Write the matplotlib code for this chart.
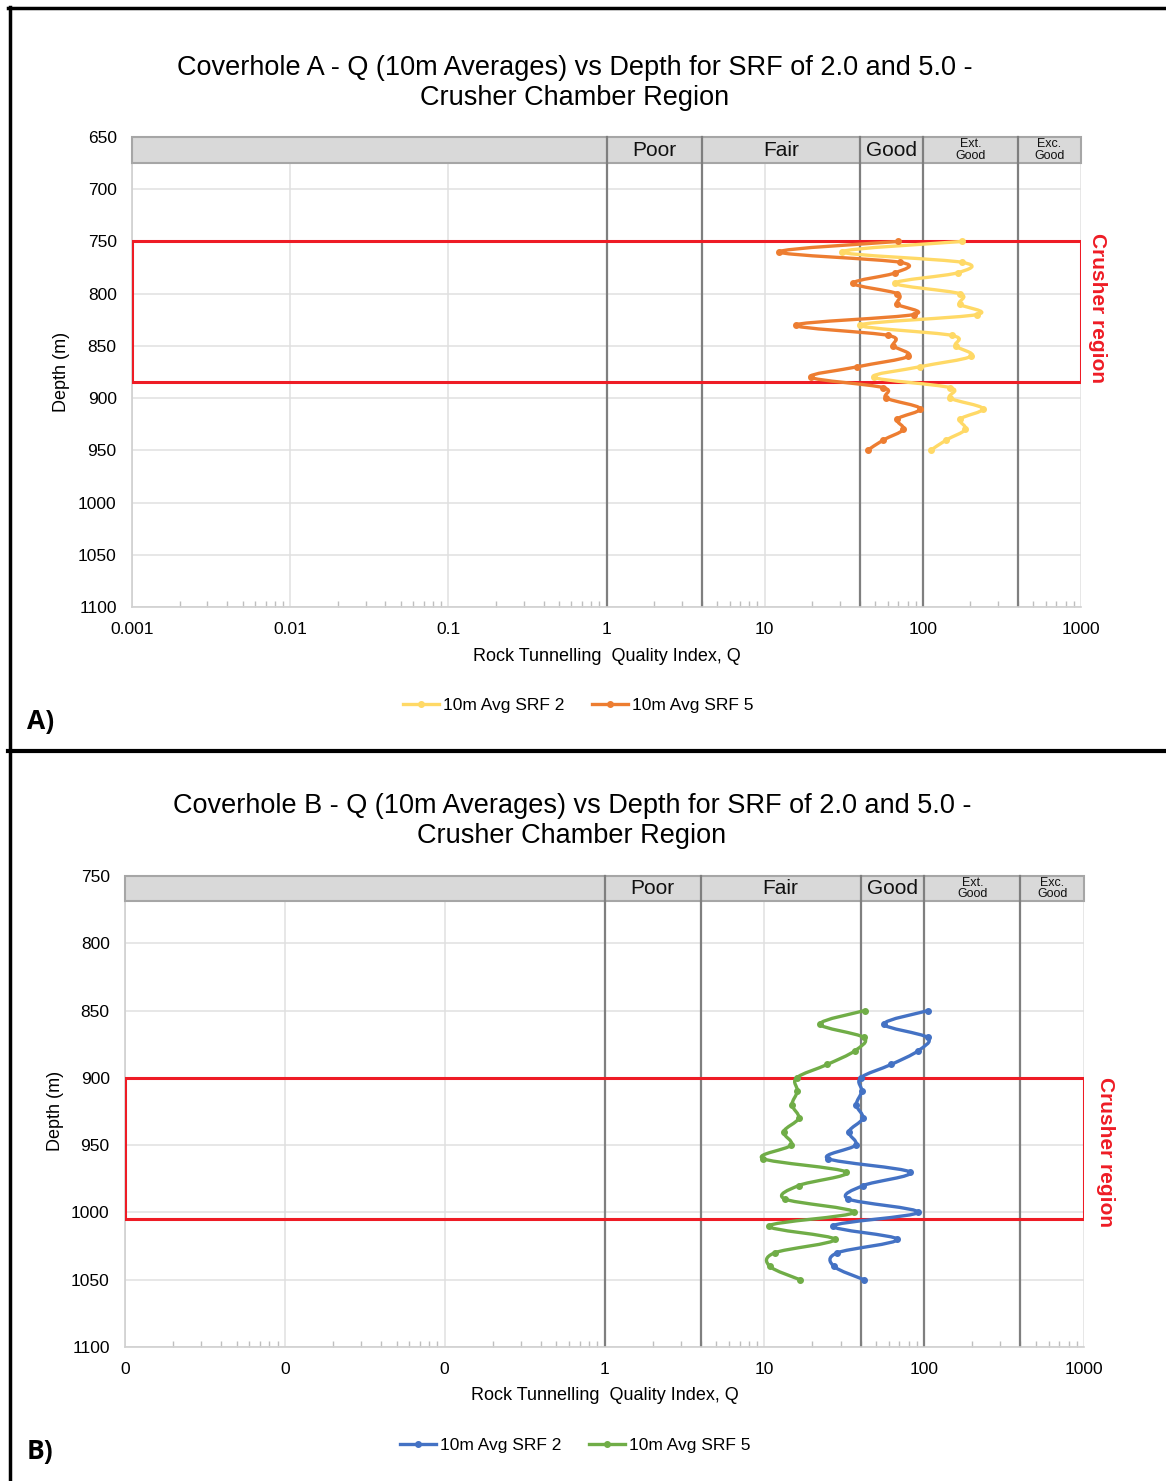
import numpy as np
import matplotlib
matplotlib.use('Agg')
import matplotlib.pyplot as plt
from matplotlib.path import Path
from matplotlib.patches import PathPatch, Rectangle
from matplotlib.lines import Line2D
import matplotlib.transforms as mtransforms
from matplotlib.ticker import FixedLocator, FixedFormatter, LogLocator, NullFormatter

plt.rcParams['font.family'] = ['Liberation Sans', 'DejaVu Sans']

# ---------------- data ----------------
depth_a = [750, 760, 770, 780, 790, 800, 810, 820, 830, 840, 850,
           860, 870, 880, 890, 900, 910, 920, 930, 940, 950]
q_a_srf2 = [177, 30.9, 177, 166, 67.1, 171, 171, 220, 40.3, 153, 161,
            202, 95.6, 48.9, 149, 149, 240, 173, 186, 141, 112]
q_a_srf5 = [70.1, 12.4, 72.2, 67.1, 36.4, 69.1, 69.1, 87.3, 15.7, 60.6, 65.2,
            81.1, 38.6, 19.5, 56.4, 58.9, 96.6, 69.1, 75.4, 56.4, 44.7]

depth_b = [850, 860, 870, 880, 890, 900, 910, 920, 930, 940, 950,
           960, 970, 980, 990, 1000, 1010, 1020, 1030, 1040, 1050]
q_b_srf2 = [106, 56, 105, 91.3, 62.3, 40, 40.7, 37.6, 41.3, 33.8, 37.2,
            25, 81.4, 41.6, 33.5, 91.3, 27, 67.9, 28.6, 27.2, 42]
q_b_srf5 = [42.4, 22.3, 41.9, 36.7, 24.8, 15.9, 16.1, 14.9, 16.4, 13.2, 14.7,
            9.79, 32.5, 16.4, 13.4, 36.3, 10.7, 27.5, 11.6, 10.8, 16.7]

x_ticks = [0.001, 0.01, 0.1, 1, 10, 100, 1000]
x_labels_a = ["0.001", "0.01", "0.1", "1", "10", "100", "1000"]
x_labels_b = ["0", "0", "0", "1", "10", "100", "1000"]
y_ticks_a = [650, 700, 750, 800, 850, 900, 950, 1000, 1050, 1100]
y_ticks_b = [750, 800, 850, 900, 950, 1000, 1050, 1100]

class_bounds = [1, 4, 40, 100, 400, 1000]
class_names = ["Poor", "Fair", "Good", "Ext.\nGood", "Exc.\nGood"]

crusher_a = (750, 885)
crusher_b = (900, 1005)

labels = ["10m Avg SRF 2", "10m Avg SRF 5"]
colors_a = ["#FFD966", "#ED7D31"]
colors_b = ["#4472C4", "#70AD47"]

titles = ["Coverhole A - Q (10m Averages) vs Depth for SRF of 2.0 and 5.0 -\nCrusher Chamber Region",
          "Coverhole B - Q (10m Averages) vs Depth for SRF of 2.0 and 5.0 -\nCrusher Chamber Region"]

# ---------------- figure ----------------
W, H = 1166, 1481
fig = plt.figure(figsize=(W / 100, H / 100), dpi=100)
fig.patch.set_facecolor('white')


def fx(px):
    return px / W


def fy(py):
    return 1 - py / H


def smooth_path(q, d):
    P = np.column_stack([np.log10(np.asarray(q, float)), np.asarray(d, float)])
    n = len(P)
    verts = [P[0]]
    codes = [Path.MOVETO]
    for i in range(n - 1):
        p0 = P[i - 1] if i > 0 else P[i]
        p1 = P[i]
        p2 = P[i + 1]
        p3 = P[i + 2] if i + 2 < n else P[i + 1]
        c1 = p1 + (p2 - p0) / 6.0
        c2 = p2 - (p3 - p1) / 6.0
        verts += [c1, c2, p2]
        codes += [Path.CURVE4] * 3
    V = np.array(verts)
    V[:, 0] = 10 ** V[:, 0]
    return Path(V, codes)


def make_panel(rect, ylim, yticks, xlabels, series, colors, crusher, band_frac):
    ax = fig.add_axes(rect)
    ax.set_xscale('log')
    ax.set_xlim(0.001, 1000)
    ax.set_ylim(ylim[1], ylim[0])
    ax.xaxis.set_major_locator(FixedLocator(x_ticks))
    ax.xaxis.set_major_formatter(FixedFormatter(xlabels))
    ax.xaxis.set_minor_locator(LogLocator(base=10, subs=np.arange(2, 10), numticks=20))
    ax.xaxis.set_minor_formatter(NullFormatter())
    ax.yaxis.set_major_locator(FixedLocator(yticks))
    ax.tick_params(axis='both', which='major', length=0, labelsize=12.5, colors='#000000', pad=11)
    ax.tick_params(axis='x', which='major', pad=11)
    ax.tick_params(axis='x', which='minor', direction='in', length=4, color='#BFBFBF', width=1)
    for s in ['top', 'right']:
        ax.spines[s].set_visible(False)
    for s in ['left', 'bottom']:
        ax.spines[s].set_color('#D0D0D0')
        ax.spines[s].set_linewidth(1.2)
    ax.grid(True, which='major', color='#E0E0E0', lw=1.1, zorder=0)
    ax.set_axisbelow(True)

    # classification lines
    for b in class_bounds[:-1]:
        ax.axvline(b, color='#7F7F7F', lw=1.6, zorder=2)

    # header band
    band = Rectangle((0, 1 - band_frac), 1, band_frac, transform=ax.transAxes,
                     facecolor='#D9D9D9', edgecolor='#A6A6A6', lw=1.5, zorder=3, clip_on=False)
    ax.add_patch(band)
    blend = mtransforms.blended_transform_factory(ax.transData, ax.transAxes)
    for b in class_bounds[:-1]:
        ax.plot([b, b], [1 - band_frac, 1], transform=blend, color='#7F7F7F', lw=1.6, zorder=4,
                clip_on=False)
    for i, name in enumerate(class_names):
        xc = np.sqrt(class_bounds[i] * class_bounds[i + 1])
        fs = 15 if '\n' not in name else 9
        ax.text(xc, 1 - band_frac / 2, name, transform=blend, ha='center', va='center',
                fontsize=fs, zorder=5, linespacing=0.9, color='#111111')

    # crusher box
    box = Rectangle((0.001, crusher[0]), 1000 - 0.001, crusher[1] - crusher[0],
                    facecolor='none', edgecolor='#EE1C25', lw=2.2, zorder=6)
    ax.add_patch(box)

    # series
    for (q, d), c in zip(series, colors):
        patch = PathPatch(smooth_path(q, d), facecolor='none', edgecolor=c, lw=2.4,
                          capstyle='round', joinstyle='round', zorder=7)
        ax.add_patch(patch)
        ax.plot(q, d, ls='none', marker='o', ms=4, color=c, zorder=8)
    return ax


# Panel A
axA = make_panel([fx(132), fy(607), fx(1081) - fx(132), fy(137) - fy(607)],
                 (650, 1100), y_ticks_a, x_labels_a,
                 [(q_a_srf2, depth_a), (q_a_srf5, depth_a)], colors_a, crusher_a, 26 / 470)
# Panel B
axB = make_panel([fx(125), fy(1347), fx(1084) - fx(125), fy(876) - fy(1347)],
                 (750, 1100), y_ticks_b, x_labels_b,
                 [(q_b_srf2, depth_b), (q_b_srf5, depth_b)], colors_b, crusher_b, 25 / 471)

# titles & labels
fig.text(fx(575), fy(83), titles[0], ha='center', va='center', fontsize=19.5, linespacing=1.2)
fig.text(fx(572), fy(821), titles[1], ha='center', va='center', fontsize=19.5, linespacing=1.2)

fig.text(fx(607), fy(657), "Rock Tunnelling  Quality Index, Q", ha='center', va='center', fontsize=13)
fig.text(fx(605), fy(1395), "Rock Tunnelling  Quality Index, Q", ha='center', va='center', fontsize=13)
fig.text(fx(62), fy(372), "Depth (m)", ha='center', va='center', rotation=90, fontsize=13)
fig.text(fx(55), fy(1111), "Depth (m)", ha='center', va='center', rotation=90, fontsize=13)

fig.text(fx(1098), fy(308), "Crusher region", ha='center', va='center', rotation=-90,
         fontsize=15, fontweight='bold', color='#EE1C25')
fig.text(fx(1105), fy(1152), "Crusher region", ha='center', va='center', rotation=-90,
         fontsize=15, fontweight='bold', color='#EE1C25')

# legends
hA = [Line2D([], [], color=c, lw=2.4, marker='o', ms=4) for c in colors_a]
hB = [Line2D([], [], color=c, lw=2.4, marker='o', ms=4) for c in colors_b]
fig.legend(hA, labels, loc='center', bbox_to_anchor=(fx(578), fy(705)), ncol=2, frameon=False,
           fontsize=12.5, handlelength=2.1, handletextpad=0.2, columnspacing=1.6)
fig.legend(hB, labels, loc='center', bbox_to_anchor=(fx(575), fy(1445)), ncol=2, frameon=False,
           fontsize=12.5, handlelength=2.1, handletextpad=0.2, columnspacing=1.6)

# panel letters
fig.text(fx(27), fy(722), "A)", ha='left', va='center', fontsize=19, fontweight='bold',
         family=['Open Sans', 'DejaVu Sans'])
fig.text(fx(27), fy(1452), "B)", ha='left', va='center', fontsize=19, fontweight='bold',
         family=['Open Sans', 'DejaVu Sans'])

# frame lines
fig.add_artist(Line2D([fx(8), fx(1166)], [fy(8), fy(8)], color='black', lw=2.5))
fig.add_artist(Line2D([fx(9.5), fx(9.5)], [fy(7), fy(1481)], color='black', lw=2.5))
fig.add_artist(Line2D([fx(8), fx(1166)], [fy(751), fy(751)], color='black', lw=3))

fig.savefig('out.png', dpi=100, facecolor='white')
